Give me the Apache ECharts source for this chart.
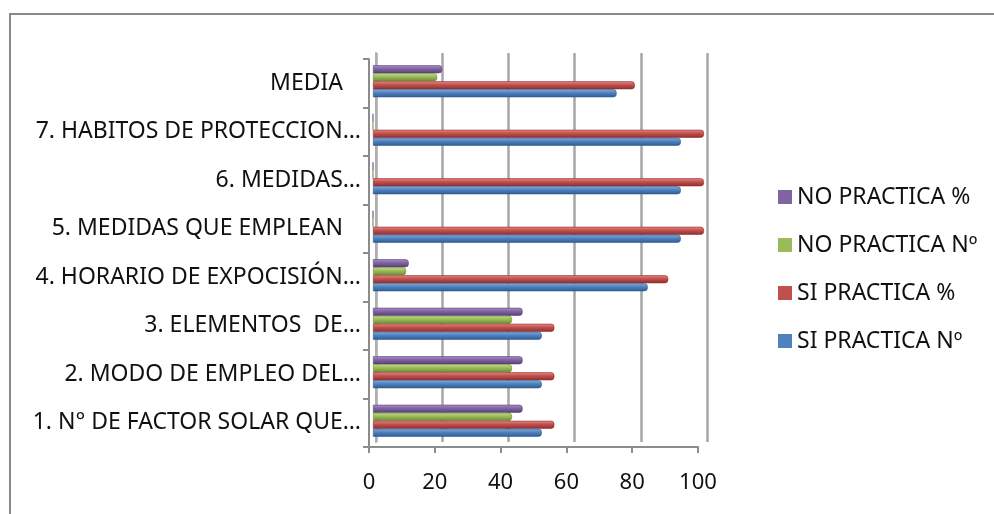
<!DOCTYPE html>
<html>
<head>
<meta charset="utf-8">
<script src="https://cdn.jsdelivr.net/npm/echarts@6/dist/echarts.min.js"></script>
<style>
  html, body { margin: 0; padding: 0; background: #fff; }
  #chart { width: 994px; height: 514px; }
</style>
</head>
<body>
<div id="chart"></div>
<script>
// Categories, bottom to top on the vertical axis
const categories = [
  '1. N° DE FACTOR SOLAR QUE…',
  '2. MODO DE EMPLEO DEL…',
  '3. ELEMENTOS  DE…',
  '4. HORARIO DE EXPOCISIÓN…',
  '5. MEDIDAS QUE EMPLEAN',
  '6. MEDIDAS…',
  '7. HABITOS DE PROTECCION…',
  'MEDIA'
];
// Labels written with trailing blanks in the source sheet
const paddedLabels = ['5. MEDIDAS QUE EMPLEAN', 'MEDIA'];

const siPracticaN   = [51, 51, 51, 83, 93, 93, 93, 73.6];
const siPracticaPct = [54.8, 54.8, 54.8, 89.2, 100, 100, 100, 79.1];
const noPracticaN   = [42, 42, 42, 10, 0, 0, 0, 19.4];
const noPracticaPct = [45.2, 45.2, 45.2, 10.8, 0, 0, 0, 20.9];

const xTicks = [0, 20, 40, 60, 80, 100];

// listed top to bottom inside each group of bars
const seriesNames = ['NO PRACTICA %', 'NO PRACTICA Nº', 'SI PRACTICA %', 'SI PRACTICA Nº'];
const seriesData = [noPracticaPct, noPracticaN, siPracticaPct, siPracticaN];
const palette = [
  { light: '#a88fcb', base: '#8064a2', dark: '#563f77' },
  { light: '#c4dd8a', base: '#9bbb59', dark: '#6d8a34' },
  { light: '#e48a87', base: '#c0504d', dark: '#8f2f2c' },
  { light: '#86aee0', base: '#4f81bd', dark: '#2f5b91' }
];

const FONT = '"Noto Sans", "Liberation Sans", sans-serif';
const FS = 23;
const chart = echarts.init(document.getElementById('chart'), null, { renderer: 'canvas' });

function shade(c) {
  return new echarts.graphic.LinearGradient(0, 0, 0, 1, [
    { offset: 0, color: c.light },
    { offset: 0.45, color: c.base },
    { offset: 1, color: c.dark }
  ]);
}

const option = {
  backgroundColor: '#ffffff',
  animation: false,
  graphic: [{
    type: 'rect',
    shape: { x: 10, y: 14, width: 1100, height: 600 },
    style: { fill: 'none', stroke: '#8a8a8a', lineWidth: 2 },
    silent: true
  }],
  legend: {
    orient: 'vertical',
    left: 778,
    top: 185,
    padding: 0,
    itemWidth: 14,
    itemHeight: 14,
    itemGap: 24,
    icon: 'rect',
    data: seriesNames.map((n, i) => ({ name: n, itemStyle: { color: palette[i].base, borderWidth: 0 } })),
    textStyle: { fontFamily: FONT, fontSize: FS, color: '#111', lineHeight: 24 }
  },
  grid: [
    // front plane: axes and labels
    { left: 369, top: 59, width: 329, height: 388 },
    // back wall: gridlines
    { left: 376, top: 53, width: 331, height: 389 },
    // bars, between the two planes
    { left: 373, top: 57, width: 331, height: 388 }
  ],
  xAxis: [
    {
      gridIndex: 0, type: 'value', min: 0, max: 100, interval: 20,
      axisLine: { show: true, lineStyle: { color: '#8c8c8c', width: 2 } },
      axisTick: { show: true, length: 6, lineStyle: { color: '#8c8c8c', width: 2 } },
      splitLine: { show: false },
      axisLabel: {
        margin: 25, fontFamily: FONT, fontSize: FS - 1, color: '#111',
        formatter: v => xTicks.includes(v) ? String(v) : ''
      }
    },
    {
      gridIndex: 1, type: 'value', min: 0, max: 100, interval: 20,
      axisLine: { show: false }, axisTick: { show: false }, axisLabel: { show: false },
      splitLine: { show: true, lineStyle: { color: '#a6a6a6', width: 2.5 } }
    },
    {
      gridIndex: 2, type: 'value', min: 0, max: 100, show: false
    }
  ],
  yAxis: [
    {
      gridIndex: 0, type: 'category', data: categories,
      axisLine: { show: true, lineStyle: { color: '#8c8c8c', width: 2 } },
      axisTick: { show: true, length: 6, lineStyle: { color: '#8c8c8c', width: 2 } },
      axisLabel: {
        margin: 8, fontFamily: FONT, fontSize: FS, color: '#111',
        formatter: v => paddedLabels.includes(v) ? '{pad|' + v + '}' : v,
        rich: { pad: { fontFamily: FONT, fontSize: FS, color: '#111', padding: [0, 18, 0, 0] } }
      },
      splitLine: { show: false }
    },
    {
      gridIndex: 1, type: 'category', data: categories,
      axisLine: { show: true, lineStyle: { color: '#b0b0b0', width: 2 } },
      axisTick: { show: false }, axisLabel: { show: false }, splitLine: { show: false }
    },
    {
      gridIndex: 2, type: 'category', data: categories, show: false
    }
  ],
  series: seriesNames.map((name, i) => ({
    name,
    type: 'bar',
    xAxisIndex: 2,
    yAxisIndex: 2,
    data: seriesData[i],
    barWidth: 8,
    barGap: '0%',
    itemStyle: {
      color: shade(palette[i]),
      borderColor: palette[i].dark,
      borderWidth: 0.6,
      borderRadius: [0, 3, 3, 0]
    },
    emphasis: { disabled: true }
  }))
};

chart.setOption(option);
</script>
</body>
</html>
